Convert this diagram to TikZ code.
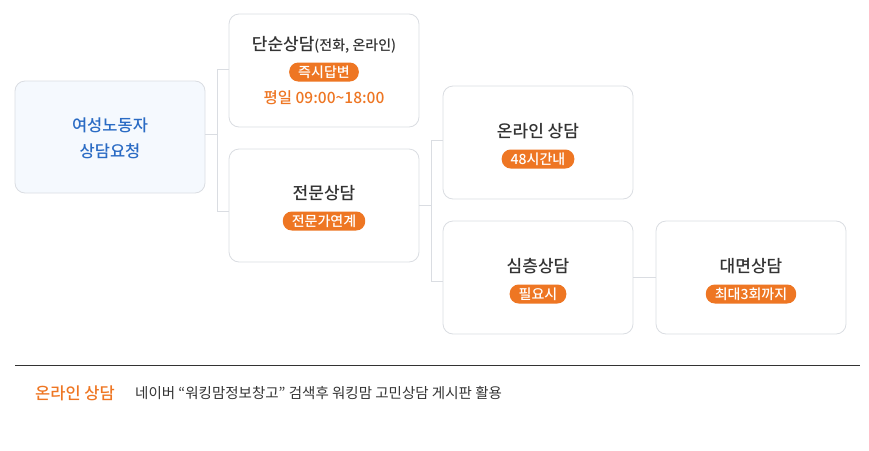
\documentclass[tikz,border=0pt]{standalone}
\usepackage{fontspec}
\setmainfont{Noto Sans CJK KR}
\newfontfamily\medf{Noto Sans CJK KR Medium}
\definecolor{orng}{HTML}{EE7623}
\definecolor{bdr}{HTML}{DADDE2}
\definecolor{lblue}{HTML}{F5F9FE}
\definecolor{dblue}{HTML}{2A6BC4}
\definecolor{txt}{HTML}{333333}
\begin{document}
\begin{tikzpicture}[x=1pt,y=-1pt,
 box/.style={draw=bdr,fill=white,rounded corners=10pt,minimum width=190pt,minimum height=113pt,line width=0.8pt},
 pill/.style={fill=orng,text=white,rounded corners=9pt,inner xsep=9pt,inner ysep=0pt,minimum height=19pt,font=\medf\fontsize{14}{16}\selectfont},
 ttl/.style={text=txt,font=\medf\fontsize{17}{20}\selectfont},
 conn/.style={draw=bdr,line width=0.8pt}]
\useasboundingbox (0,0) rectangle (869,450);
\node[box,fill=lblue,minimum height=112pt] (a) at (110,137) {};
\node[text=dblue,font=\medf\fontsize{16.5}{26}\selectfont,align=center] (at) at (110,138) {여성노동자\\상담요청};
\node[box] (b) at (324,70.5) {};
\node[ttl] (bt) at (324,45) {단순상담{\fontsize{14}{16}\selectfont(전화, 온라인)}};
\node[pill] (bp) at (324,72) {즉시답변};
\node[text=orng,font=\medf\fontsize{15.5}{18}\selectfont] (bh) at (324,98) {평일 09:00\textasciitilde18:00};
\node[box] (c) at (324,205.5) {};
\node[ttl] (ct) at (324,193) {전문상담};
\node[pill] (cp) at (324,221) {전문가연계};
\node[box] (d) at (538,142.5) {};
\node[ttl] (dt) at (538,131) {온라인 상담};
\node[pill] (dp) at (538,159) {48시간내};
\node[box] (e) at (538,277.5) {};
\node[ttl] (et) at (538,266) {심층상담};
\node[pill] (ep) at (538,294) {필요시};
\node[box] (f) at (751,277.5) {};
\node[ttl] (ft) at (751,266) {대면상담};
\node[pill] (fp) at (751,294) {최대3회까지};
\coordinate (j1) at (217,134);
\coordinate (j2) at (431,205);
\draw[conn] (a.east |- j1) -- (j1);
\draw[conn] (j1 |- 0,69) -- (j1 |- 0,211);
\draw[conn] (j1 |- 0,69) -- (b.west |- 0,69);
\draw[conn] (j1 |- 0,211) -- (c.west |- 0,211);
\draw[conn] (c.east |- j2) -- (j2);
\draw[conn] (j2 |- 0,140) -- (j2 |- 0,281);
\draw[conn] (j2 |- 0,140) -- (d.west |- 0,140);
\draw[conn] (j2 |- 0,281) -- (e.west |- 0,281);
\draw[conn] (e.east |- 0,277) -- (f.west |- 0,277);
\coordinate (l1) at (15,365);
\coordinate (l2) at (860,365);
\draw[line width=0.9pt,draw=txt] (l1) -- (l2);
\node[anchor=west,text=orng,font=\medf\fontsize{16.5}{18}\selectfont,inner sep=0] (n1) at (35,393) {온라인 상담};
\node[anchor=west,text=txt,font=\fontsize{14.5}{16}\selectfont,inner sep=0] (n2) at (135,393) {네이버 “워킹맘정보창고” 검색후 워킹맘 고민상담 게시판 활용};
\end{tikzpicture}
\end{document}
